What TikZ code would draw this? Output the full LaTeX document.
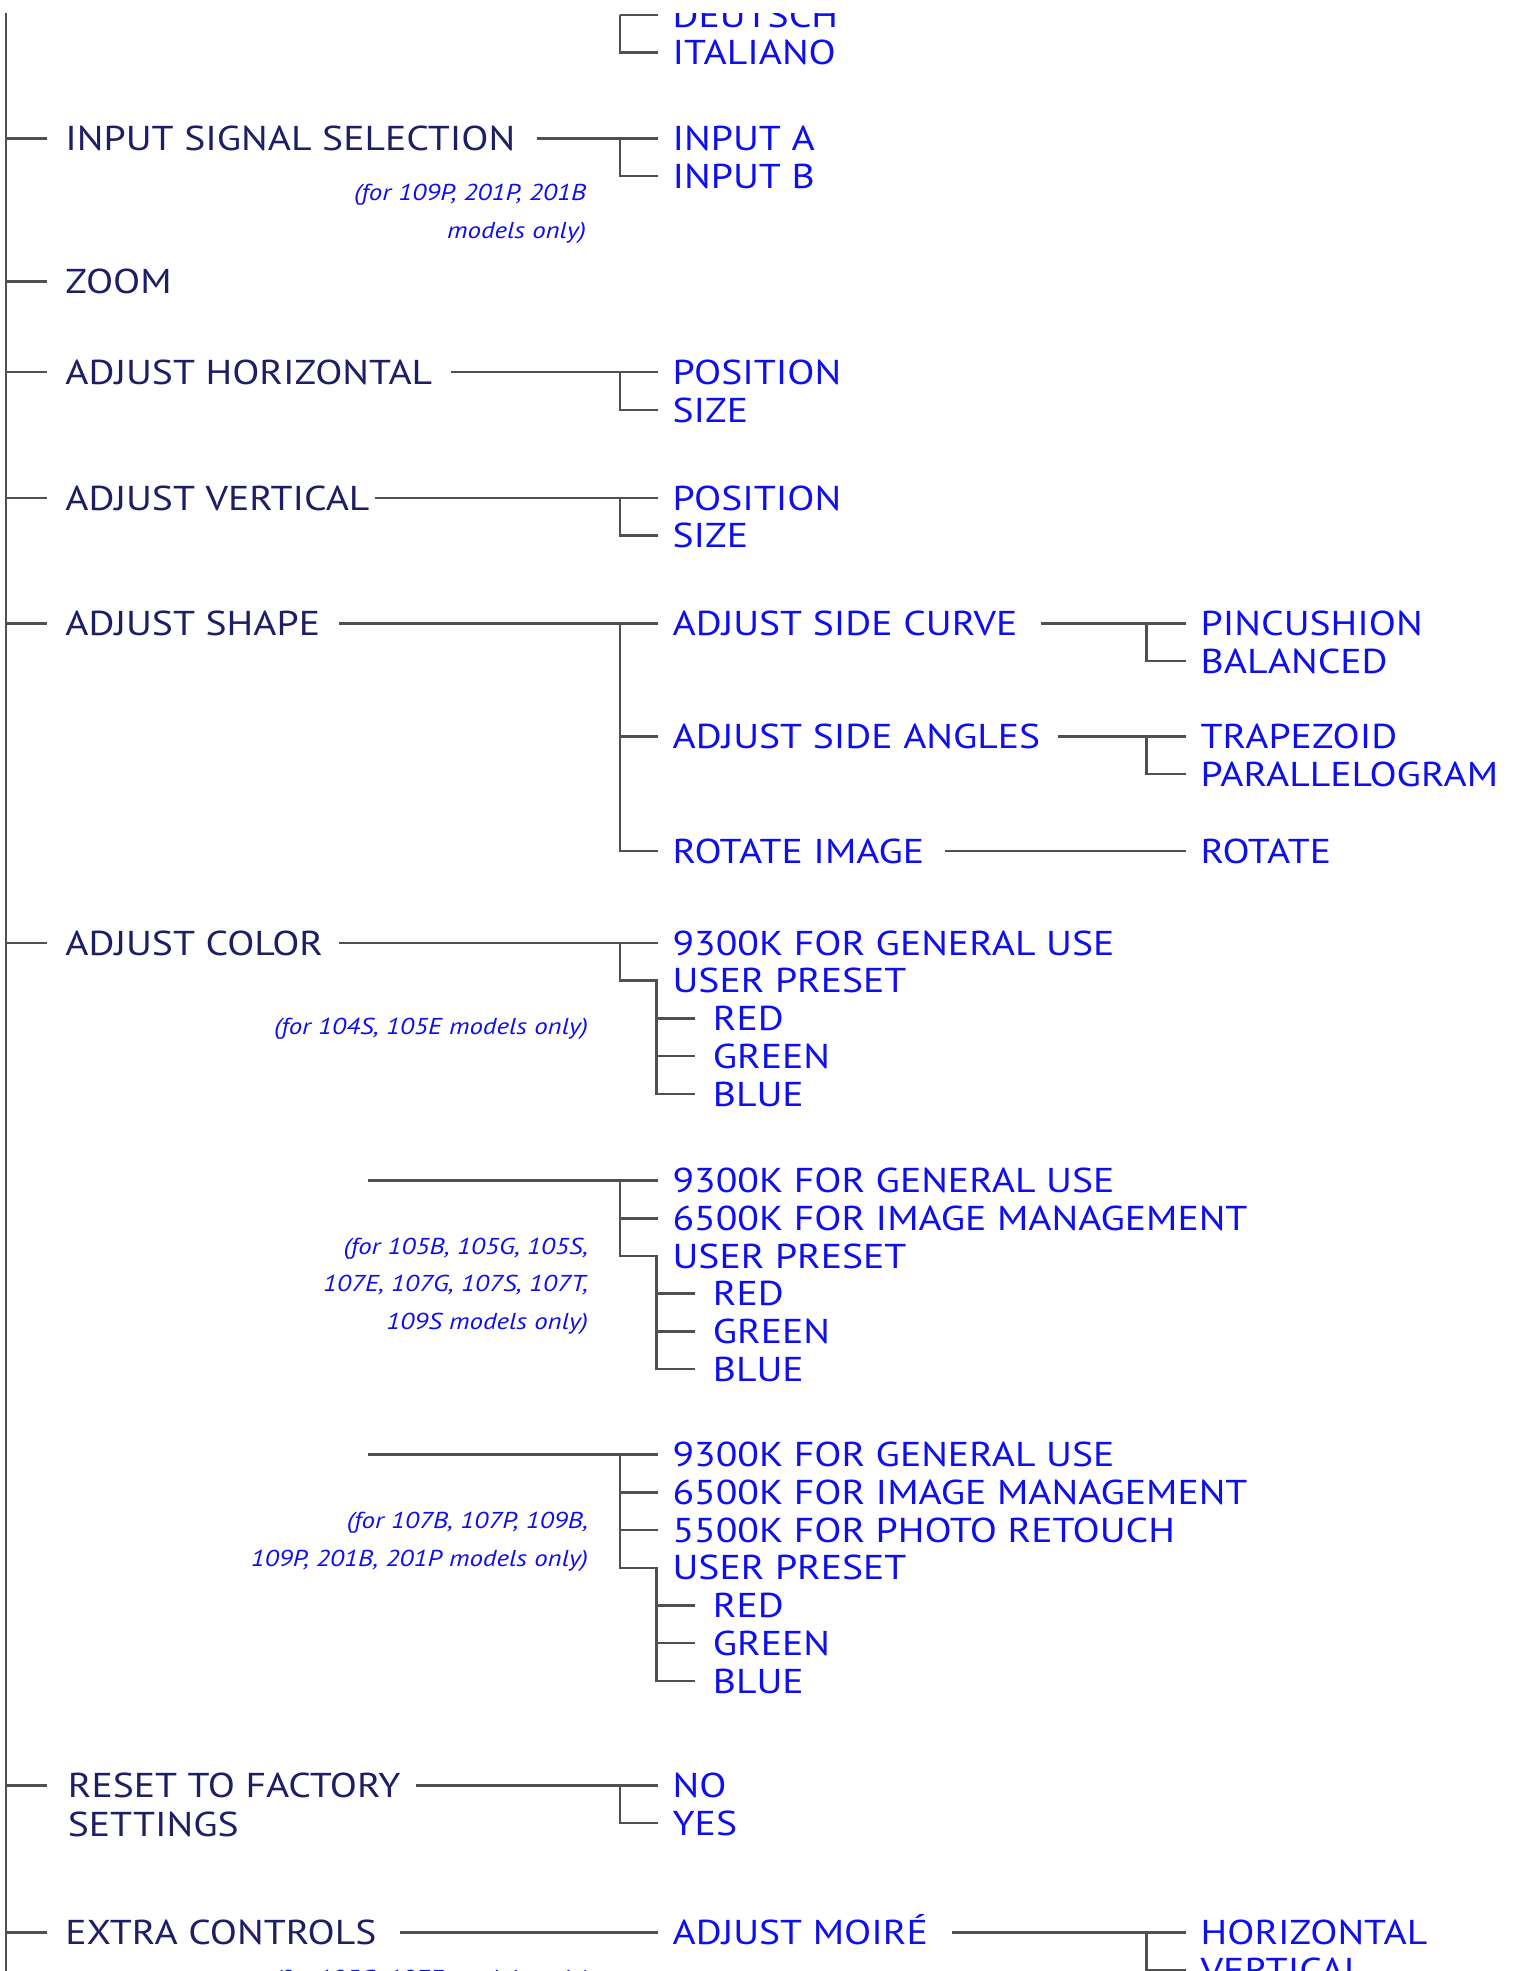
\documentclass[tikz,border=0pt]{standalone}
\usepackage{fontspec}
\newfontfamily\menufont{PT Sans}[FakeStretch=1.15]
\newfontfamily\notefont{PT Sans}[FakeStretch=1.17]
\definecolor{navy}{RGB}{30,30,100}
\definecolor{menublue}{RGB}{15,15,235}
\definecolor{linegray}{RGB}{80,80,80}
\tikzset{
  lbl/.style={anchor=west, inner sep=0pt, outer sep=0pt, text height=24.2pt, text depth=0pt,
    font=\menufont\fontsize{34.5}{38}\selectfont},
  toplbl/.style={lbl, text=navy},
  sublbl/.style={lbl, text=menublue},
  notelbl/.style={anchor=east, inner sep=0pt, outer sep=0pt, align=right, text=menublue,
    font=\notefont\itshape\fontsize{23}{37.7}\selectfont},
  conn/.style={draw=linegray, line width=2.5pt},
  spine/.style={draw=linegray, line width=2.2pt},
}
\begin{document}
\begin{tikzpicture}[x=1pt, y=-1pt]
\useasboundingbox[fill=white] (0,0) rectangle (1515,1971);
\begin{scope}
\clip (0,13) rectangle (1515,1971);
% junction coordinates
\coordinate (spTop) at (6.3,13);
\coordinate (spBot) at (6.3,1980);
\coordinate (jA) at (619.9,0);
\coordinate (jB) at (656.3,0);
\coordinate (jC) at (1146.7,0);
\coordinate (c2start) at (368.4,1180.6);
\coordinate (c3start) at (368.4,1454.7);

% ---------- top-level labels ----------
\node[toplbl] (isel)   at (65.4,138.3)  {INPUT SIGNAL SELECTION};
\node[toplbl] (zoom)   at (65.4,281.6)  {ZOOM};
\node[toplbl] (ahor)   at (65.4,372.2)  {ADJUST HORIZONTAL};
\node[toplbl] (aver)   at (65.4,497.9)  {ADJUST VERTICAL};
\node[toplbl] (ashape) at (65.4,623.5)  {ADJUST SHAPE};
\node[toplbl] (acolor) at (65.4,943)    {ADJUST COLOR};
\node[toplbl] (reset)  at (67.9,1785.4) {RESET TO FACTORY};
\node[toplbl] (reset2) at (67.9,1824.3) {SETTINGS};
\node[toplbl] (extra)  at (65.4,1932.5) {EXTRA CONTROLS};

% ---------- second level ----------
\node[sublbl] (deutsch)  at (672.6,15)    {DEUTSCH};
\node[sublbl] (italiano) at (672.6,52.7)  {ITALIANO};
\node[sublbl] (ina)      at (672.6,138.3) {INPUT A};
\node[sublbl] (inb)      at (672.6,176)   {INPUT B};
\node[sublbl] (hpos)     at (672.6,372.2) {POSITION};
\node[sublbl] (hsize)    at (672.6,409.9) {SIZE};
\node[sublbl] (vpos)     at (672.6,497.9) {POSITION};
\node[sublbl] (vsize)    at (672.6,535.6) {SIZE};
\node[sublbl] (sc)       at (672.6,623.5) {ADJUST SIDE CURVE};
\node[sublbl] (sa)       at (672.6,736.5) {ADJUST SIDE ANGLES};
\node[sublbl] (ri)       at (672.6,851.2) {ROTATE IMAGE};
\node[sublbl] (pin)      at (1200.7,623.5) {PINCUSHION};
\node[sublbl] (bal)      at (1200.7,661.2) {BALANCED};
\node[sublbl] (trap)     at (1200.7,736.5) {TRAPEZOID};
\node[sublbl] (para)     at (1200.7,774.2) {PARALLELOGRAM};
\node[sublbl] (rot)      at (1200.7,851.2) {ROTATE};

% colour group 1
\node[sublbl] (ca1) at (672.6,943)    {9300K FOR GENERAL USE};
\node[sublbl] (ca2) at (672.6,980.7)  {USER PRESET};
\node[sublbl] (car) at (712.9,1018.4) {RED};
\node[sublbl] (cag) at (712.9,1056.1) {GREEN};
\node[sublbl] (cab) at (712.9,1093.9) {BLUE};
% colour group 2
\node[sublbl] (cb1) at (672.6,1180.6) {9300K FOR GENERAL USE};
\node[sublbl] (cb2) at (672.6,1218.3) {6500K FOR IMAGE MANAGEMENT};
\node[sublbl] (cb3) at (672.6,1256)   {USER PRESET};
\node[sublbl] (cbr) at (712.9,1293.7) {RED};
\node[sublbl] (cbg) at (712.9,1331.4) {GREEN};
\node[sublbl] (cbb) at (712.9,1369.1) {BLUE};
% colour group 3
\node[sublbl] (cc1) at (672.6,1454.7) {9300K FOR GENERAL USE};
\node[sublbl] (cc2) at (672.6,1492.4) {6500K FOR IMAGE MANAGEMENT};
\node[sublbl] (cc3) at (672.6,1530.1) {5500K FOR PHOTO RETOUCH};
\node[sublbl] (cc4) at (672.6,1567.8) {USER PRESET};
\node[sublbl] (ccr) at (712.9,1605.5) {RED};
\node[sublbl] (ccg) at (712.9,1643.2) {GREEN};
\node[sublbl] (ccb) at (712.9,1680.9) {BLUE};

\node[sublbl] (no)    at (672.6,1785.4)  {NO};
\node[sublbl] (yes)   at (672.6,1823.1)  {YES};
\node[sublbl] (moire) at (672.6,1932.5)  {ADJUST MOIRÉ};
\node[sublbl] (mhor)  at (1200.7,1932.5) {HORIZONTAL};
\node[sublbl] (mver)  at (1200.7,1970.2) {VERTICAL};

% ---------- notes ----------
\node[notelbl] (n1) at (586,213.8)  {(for 109P, 201P, 201B\\models only)};
\node[notelbl] (n2) at (588,1028.5) {(for 104S, 105E models only)};
\node[notelbl] (n3) at (588,1286.2) {(for 105B, 105G, 105S,\\107E, 107G, 107S, 107T,\\109S models only)};
\node[notelbl] (n4) at (588,1541.5) {(for 107B, 107P, 109B,\\109P, 201B, 201P models only)};
\node[notelbl] (n5) at (589,1981)   {(for 105G, 107E models only)};

% ---------- spine ----------
\draw[spine] (spTop) -- (spBot);
\foreach \n/\g in {isel/18.9, zoom/18.9, ahor/18.9, aver/18.9, ashape/18.9, acolor/18.9, reset/21.4, extra/18.9}
  \draw[conn] (\n.west -| spTop) -- ([xshift=-\g]\n.west);

% ---------- DEUTSCH / ITALIANO ----------
\draw[conn] (deutsch.west -| jA) -- ([xshift=-15]deutsch.west);
\draw[conn] (deutsch.west -| jA) |- ([xshift=-15]italiano.west);

% ---------- INPUT SIGNAL ----------
\draw[conn] ([xshift=21.6]isel.east) -- ([xshift=-15]ina.west);
\draw[conn] (ina.west -| jA) |- ([xshift=-15]inb.west);

% ---------- ADJUST HORIZONTAL ----------
\draw[conn] ([xshift=19]ahor.east) -- ([xshift=-15]hpos.west);
\draw[conn] (hpos.west -| jA) |- ([xshift=-15]hsize.west);

% ---------- ADJUST VERTICAL ----------
\draw[conn] ([xshift=6]aver.east) -- ([xshift=-15]vpos.west);
\draw[conn] (vpos.west -| jA) |- ([xshift=-15]vsize.west);

% ---------- ADJUST SHAPE ----------
\draw[conn] ([xshift=19]ashape.east) -- ([xshift=-15]sc.west);
\draw[conn] (sc.west -| jA) |- ([xshift=-15]ri.west);
\draw[conn] (sa.west -| jA) -- ([xshift=-15]sa.west);
\draw[conn] ([xshift=24]sc.east) -- ([xshift=-15]pin.west);
\draw[conn] (pin.west -| jC) |- ([xshift=-15]bal.west);
\draw[conn] ([xshift=18]sa.east) -- ([xshift=-15]trap.west);
\draw[conn] (trap.west -| jC) |- ([xshift=-15]para.west);
\draw[conn] ([xshift=21]ri.east) -- ([xshift=-15]rot.west);

% ---------- ADJUST COLOR group 1 ----------
\draw[conn] ([xshift=16]acolor.east) -- ([xshift=-15]ca1.west);
\draw[conn] (ca1.west -| jA) |- (ca2.west -| jB) |- ([xshift=-17.6]cab.west);
\draw[conn] (car.west -| jB) -- ([xshift=-17.6]car.west);
\draw[conn] (cag.west -| jB) -- ([xshift=-17.6]cag.west);

% ---------- ADJUST COLOR group 2 ----------
\draw[conn] (c2start) -- ([xshift=-15]cb1.west);
\draw[conn] (cb1.west -| jA) |- (cb3.west -| jB) |- ([xshift=-17.6]cbb.west);
\draw[conn] (cb2.west -| jA) -- ([xshift=-15]cb2.west);
\draw[conn] (cbr.west -| jB) -- ([xshift=-17.6]cbr.west);
\draw[conn] (cbg.west -| jB) -- ([xshift=-17.6]cbg.west);

% ---------- ADJUST COLOR group 3 ----------
\draw[conn] (c3start) -- ([xshift=-15]cc1.west);
\draw[conn] (cc1.west -| jA) |- (cc4.west -| jB) |- ([xshift=-17.6]ccb.west);
\draw[conn] (cc2.west -| jA) -- ([xshift=-15]cc2.west);
\draw[conn] (cc3.west -| jA) -- ([xshift=-15]cc3.west);
\draw[conn] (ccr.west -| jB) -- ([xshift=-17.6]ccr.west);
\draw[conn] (ccg.west -| jB) -- ([xshift=-17.6]ccg.west);

% ---------- RESET ----------
\draw[conn] ([xshift=16]reset.east) -- ([xshift=-15]no.west);
\draw[conn] (no.west -| jA) |- ([xshift=-15]yes.west);

% ---------- EXTRA CONTROLS ----------
\draw[conn] ([xshift=24]extra.east) -- ([xshift=-15]moire.west);
\draw[conn] ([xshift=24]moire.east) -- ([xshift=-15]mhor.west);
\draw[conn] (mhor.west -| jC) |- ([xshift=-15]mver.west);
\end{scope}
\end{tikzpicture}
\end{document}
